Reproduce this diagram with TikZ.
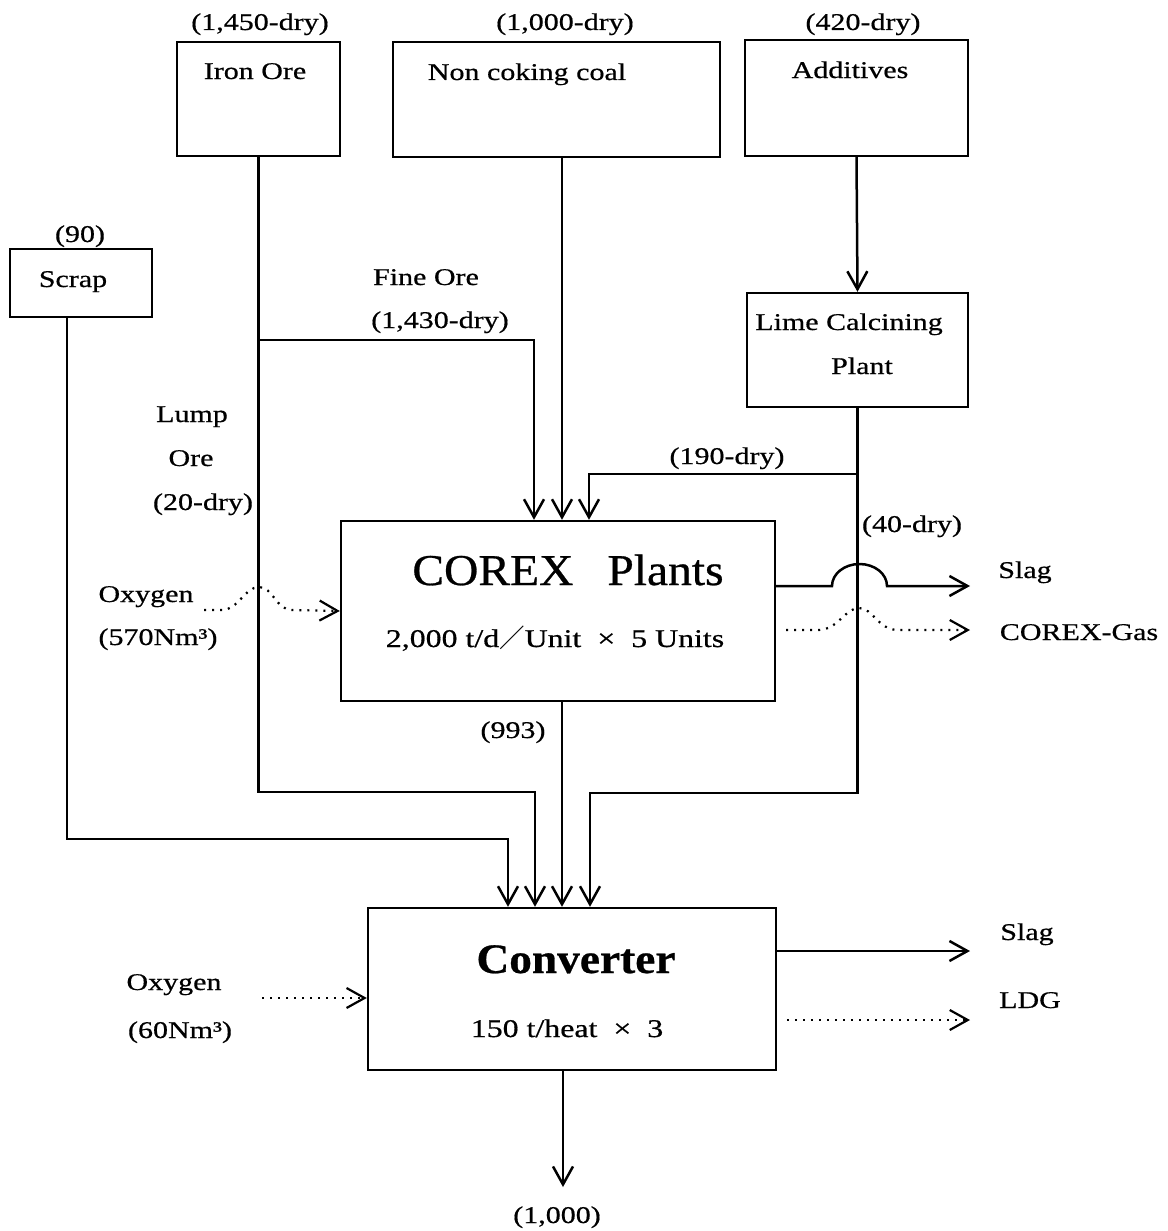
\documentclass[tikz,border=0pt]{standalone}
\usepackage{fontspec}
\setmainfont{Liberation Serif}[FakeStretch=1.25,FakeBold=0.6]
\newfontfamily\widefont{Liberation Serif}[FakeStretch=1.08,FakeBold=0.6]
\newfontfamily\cjkfont{Noto Sans CJK JP}
\usetikzlibrary{arrows.meta}
\begin{document}
\begin{tikzpicture}[x=1pt,y=-1pt,
  box/.style={draw, line width=2.4pt, inner sep=0pt},
  lbl/.style={inner sep=0pt, anchor=base, font=\fontsize{24}{28}\selectfont},
  mid/.style={inner sep=0pt, anchor=base, font=\fontsize{25.5}{30}\selectfont},
  big/.style={inner sep=0pt, anchor=base, font=\widefont\fontsize{44}{50}\selectfont},
  flow/.style={line width=2.5pt},
  arr/.style={-{Straight Barb[length=18pt,width=20pt]}},
  dotline/.style={line width=2.2pt, dash pattern=on 2pt off 6pt}]
\useasboundingbox (0,0) rectangle (1167,1231);

% boxes
\node[box, minimum width=163pt, minimum height=114pt] (iron) at (258.5,99) {};
\node[box, minimum width=327pt, minimum height=115pt] (coal) at (556.5,99.5) {};
\node[box, minimum width=223pt, minimum height=116pt] (add) at (856.5,98) {};
\node[box, minimum width=221pt, minimum height=114pt] (lime) at (857.5,350) {};
\node[box, minimum width=142pt, minimum height=68pt] (scrap) at (81,283) {};
\node[box, minimum width=434pt, minimum height=180pt] (corex) at (558,611) {};
\node[box, minimum width=408pt, minimum height=162pt] (conv) at (572,989) {};

% labels
\node[lbl] (l1450) at (260,30) {(1,450-dry)};
\node[lbl] (tiron) at (255,79) {Iron Ore};
\node[lbl] (l1000) at (565,30) {(1,000-dry)};
\node[lbl] (tcoal) at (527,80) {Non coking coal};
\node[lbl] (l420) at (863,30) {(420-dry)};
\node[lbl] (tadd) at (850,78) {Additives};
\node[lbl] (l90) at (80,242) {(90)};
\node[lbl] (tscrap) at (73,287) {Scrap};
\node[lbl] (tfine) at (426,285) {Fine Ore};
\node[lbl] (l1430) at (440,328) {(1,430-dry)};
\node[lbl] (tlime1) at (849,330) {Lime Calcining};
\node[lbl] (tlime2) at (862,374) {Plant};
\node[lbl] (l190) at (727,464) {(190-dry)};
\node[lbl] (tlump1) at (192,422) {Lump};
\node[lbl] (tlump2) at (191,466) {Ore};
\node[lbl] (l20) at (203,510) {(20-dry)};
\node[lbl] (tox1) at (146,602) {Oxygen};
\node[lbl] (lox1) at (158,645) {(570Nm³)};
\node[big] (tcorex) at (568,585) {COREX\hspace{34pt}Plants};
\node[mid] (scorex) at (555,647) {2,000 t/d{\cjkfont ／}Unit\ \ ×\ \ 5 Units};
\node[lbl] (l40) at (912,532) {(40-dry)};
\node[lbl] (tslag1) at (1025,578) {Slag};
\node[lbl] (tgas) at (1079,640) {COREX-Gas};
\node[lbl] (l993) at (513,738) {(993)};
\node[big, font=\widefont\bfseries\fontsize{42}{48}\selectfont] (tconv) at (576,973) {Converter};
\node[mid] (sconv) at (567,1037) {150 t/heat\ \ ×\ \ 3};
\node[lbl] (tox2) at (174,990) {Oxygen};
\node[lbl] (lox2) at (180,1038) {(60Nm³)};
\node[lbl] (tslag2) at (1027,940) {Slag};
\node[lbl] (tldg) at (1030,1008) {LDG};
\node[lbl] (l1000b) at (557,1223) {(1,000)};

% junction coordinates
\coordinate (fj) at (258.5,340);
\coordinate (ij) at (535,792);
\coordinate (lj) at (857.5,474);
\coordinate (lj2) at (590,793);
\coordinate (sj) at (508,839);
\coordinate (slagend) at (970,586);
\coordinate (gasend) at (970,630);
\coordinate (ox1) at (204,610);
\coordinate (ox2) at (262,998);
\coordinate (prod) at (563,1187);

% solid flows
\draw[flow,arr] (iron.south) |- (ij) -- ([xshift=-37pt]conv.north);
\draw[flow,arr] (fj) -| ([xshift=-24pt]corex.north);
\draw[flow,arr] ([xshift=5.5pt]coal.south) -- ([xshift=4pt]corex.north);
\draw[flow,arr] (add.south) -- (lime.north);
\draw[flow,arr] (lime.south) |- (lj2) -- ([xshift=18pt]conv.north);
\draw[flow,arr] (lj) -| ([xshift=31pt]corex.north);
\draw[flow,arr] ([xshift=-14pt]scrap.south) |- (sj) -- ([xshift=-64pt]conv.north);
\draw[flow,arr] ([xshift=4pt]corex.south) -- ([xshift=-10pt]conv.north);
\draw[flow,arr] ([yshift=25pt]corex.east) -- (832,586)
  arc[start angle=180, end angle=0, x radius=27.5pt, y radius=22pt] -- (slagend);
\draw[flow,arr] ([yshift=38pt]conv.east) -- (970,951);
\draw[flow,arr] ([xshift=-9pt]conv.south) -- (prod);

% dotted flows
\draw[dotline,arr] (ox1) -- (222,610) .. controls (238,610) and (245,587) .. (259,587)
  .. controls (273,587) and (276,610) .. (292,610) -- (corex.west);
\draw[dotline,arr] ([xshift=10pt,yshift=-19pt]corex.east) -- (818,630)
  .. controls (838,630) and (845,608) .. (859,608)
  .. controls (873,608) and (878,630) .. (898,630) -- (gasend);
\draw[dotline,arr] (ox2) -- ([yshift=-9pt]conv.west);
\draw[dotline,arr] ([xshift=10pt,yshift=-31pt]conv.east) -- (970,1020);
\end{tikzpicture}
\end{document}
